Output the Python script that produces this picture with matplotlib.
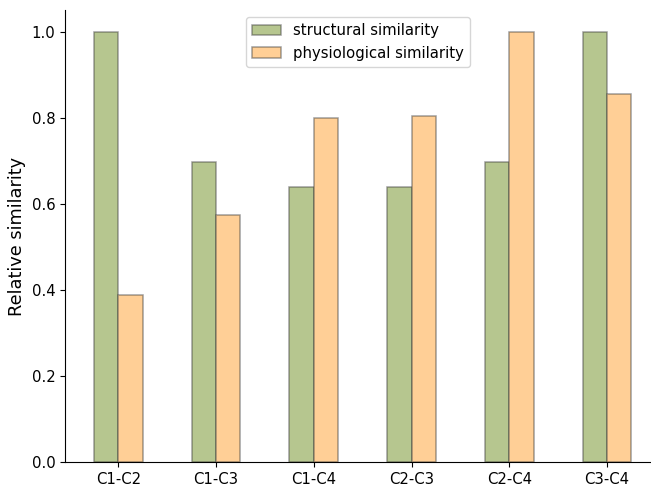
import matplotlib
matplotlib.use("Agg")
import matplotlib.pyplot as plt
import numpy as np

categories = ["C1-C2", "C1-C3", "C1-C4", "C2-C3", "C2-C4", "C3-C4"]
structural = [1.0, 0.697, 0.639, 0.639, 0.697, 0.998]
physiological = [0.387, 0.573, 0.800, 0.804, 1.0, 0.855]

green = "#b6c68f"
orange = "#ffcf96"
edge = (0.25, 0.25, 0.25, 0.5)

fig = plt.figure(figsize=(6.51, 4.86), dpi=100)
ax = fig.add_axes([65 / 651, 24 / 486, 586 / 651, 452 / 486])

x = np.arange(len(categories))
w = 0.25
ax.bar(x - w / 2, structural, w, color=green, edgecolor=edge, linewidth=1.1,
       label="structural similarity")
ax.bar(x + w / 2, physiological, w, color=orange, edgecolor=edge, linewidth=1.1,
       label="physiological similarity")

ax.set_xticks(x)
ax.set_xticklabels(categories, fontsize=10.7)
ax.set_xlim(-0.545, 5.45)
ax.set_ylim(0, 1.05)
ax.set_yticks([0.0, 0.2, 0.4, 0.6, 0.8, 1.0])
ax.tick_params(axis="y", labelsize=10.7)
ax.set_ylabel("Relative similarity", fontsize=12.8)
ax.spines["top"].set_visible(False)
ax.spines["right"].set_visible(False)
ax.legend(loc="upper center", fontsize=10.7)

fig.savefig("out.png", dpi=100)
